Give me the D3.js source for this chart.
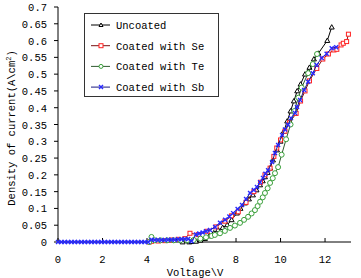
<!DOCTYPE html>
<html>
<head>
<meta charset="utf-8">
<script src="https://cdn.jsdelivr.net/npm/d3@7"></script>
<style>
  body { margin: 0; background: #fff; }
  svg { display: block; }
  text { font-family: "Liberation Mono", "DejaVu Sans Mono", monospace; font-size: 10.5px; fill: #000; }
</style>
</head>
<body>
<div id="chart"></div>
<script>
// series names, in drawing order
var names = ["Uncoated", "Coated with Se", "Coated with Te", "Coated with Sb"];

// [voltage, current density]
var uncoated = [[5.6,0],[5.9,0],[6.0,0.001],[6.2,0.002],[6.4,0.005],[6.6,0.01],[6.8,0.018],[7.0,0.027],
  [7.19,0.036],[7.4,0.043],[7.6,0.051],[7.8,0.066],[8.04,0.086],[8.2,0.1],[8.4,0.116],[8.58,0.128],
  [8.76,0.14],[8.92,0.155],[9.08,0.17],[9.2,0.182],[9.3,0.194],[9.42,0.207],[9.53,0.22],[9.66,0.244],
  [9.84,0.274],[10.0,0.3],[10.15,0.33],[10.3,0.36],[10.45,0.39],[10.6,0.42],[10.75,0.45],[10.9,0.47],
  [11.1,0.5],[11.3,0.52],[11.5,0.545],[11.7,0.562],[12.1,0.6],[12.3,0.64]];

var se = [[4.1,0],[4.2,0.002],[4.5,0.003],[4.8,0.004],[5.1,0.006],[5.4,0.008],[5.7,0.01],[5.93,0.026],
  [6.3,0.022],[6.7,0.032],[7.1,0.045],[7.5,0.062],[7.8,0.078],[8.1,0.09],[8.45,0.118],[8.8,0.15],
  [9.1,0.178],[9.3,0.2],[9.53,0.22],[9.7,0.255],[9.83,0.28],[10.0,0.304],[10.2,0.33],[10.4,0.355],
  [10.7,0.383],[10.9,0.42],[11.1,0.45],[11.3,0.48],[11.63,0.517],[11.9,0.545],[12.15,0.56],[12.4,0.572],
  [12.53,0.574],[12.72,0.587],[12.82,0.592],[12.97,0.597],[13.05,0.619]];

var te = [[4.1,0],[4.2,0.015],[4.35,0.005],[4.6,0.005],[4.9,0.005],[5.2,0.005],[5.5,0.005],[5.8,0.005],
  [6.1,0.006],[6.4,0.01],[6.65,0.014],[6.9,0.018],[7.05,0.021],[7.28,0.026],[7.5,0.033],[7.73,0.042],
  [7.95,0.049],[8.18,0.057],[8.36,0.066],[8.54,0.075],[8.7,0.085],[8.85,0.095],[8.97,0.107],[9.08,0.12],
  [9.2,0.133],[9.3,0.146],[9.42,0.16],[9.53,0.176],[9.65,0.19],[9.75,0.205],[9.89,0.223],[10.05,0.26],
  [10.25,0.306],[10.45,0.35],[10.62,0.39],[10.8,0.43],[10.95,0.46],[11.24,0.503],[11.45,0.53],[11.64,0.56]];

var sb = [[0,0],[0.15,0],[0.3,0],[0.45,0],[0.6,0],[0.75,0],[0.9,0],[1.05,0],[1.2,0],[1.35,0],[1.5,0],
  [1.65,0],[1.8,0],[1.95,0],[2.1,0],[2.25,0],[2.4,0],[2.55,0],[2.7,0],[2.85,0],[3.0,0],[3.15,0],[3.3,0],
  [3.45,0],[3.6,0],[3.75,0],[3.9,0],[4.05,0],[4.2,0.007],[4.35,0.006],[4.5,0.006],[4.65,0.006],
  [4.8,0.006],[4.95,0.007],[5.1,0.007],[5.25,0.007],[5.4,0.008],[5.55,0.008],[5.7,0.009],[5.85,0.009],
  [6.0,0.002],[6.2,0.022],[6.35,0.025],[6.5,0.028],[6.65,0.032],[6.83,0.036],[7.06,0.045],[7.28,0.057],
  [7.51,0.066],[7.7,0.076],[7.87,0.086],[8.07,0.098],[8.27,0.11],[8.45,0.128],[8.63,0.146],[8.8,0.155],
  [8.94,0.164],[9.08,0.178],[9.21,0.191],[9.32,0.203],[9.44,0.214],[9.62,0.238],[9.75,0.265],[9.89,0.289],
  [10.07,0.319],[10.2,0.335],[10.34,0.349],[10.47,0.369],[10.65,0.384],[10.74,0.402],[10.88,0.423],
  [11.06,0.453],[11.24,0.477],[11.45,0.503],[11.62,0.527],[11.85,0.548],[12.07,0.561],[12.3,0.577],[12.5,0.58]];

var xTicks = [0, 2, 4, 6, 8, 10, 12];
var yTicks = [0, 0.05, 0.1, 0.15, 0.2, 0.25, 0.3, 0.35, 0.4, 0.45, 0.5, 0.55, 0.6, 0.65, 0.7];

var lineColors = ["#000000", "#7a1010", "#2f5a2f", "#1a1a80"];
var markColors = ["#000000", "#ff2020", "#3aa03a", "#2a2aff"];
var markTypes = ["triangle", "square", "circle", "x"];
var markSizes = [2.5, 2, 2.5, 2];

var width = 361, height = 278;
var svg = d3.select("#chart").append("svg")
    .attr("width", width)
    .attr("height", height);

var x = d3.scaleLinear().domain([0, 13]).range([58, 347.3]);
var y = d3.scaleLinear().domain([0, 0.7]).range([242, 7]);

// axes
var gx = svg.append("g").attr("transform", "translate(0," + y(0) + ")");
gx.append("line").attr("x1", x(0)).attr("x2", 351).attr("stroke", "#000");
gx.selectAll("line.t").data(xTicks).enter().append("line")
    .attr("x1", d => x(d)).attr("x2", d => x(d)).attr("y1", 0).attr("y2", -4)
    .attr("stroke", "#000");
gx.selectAll("text").data(xTicks).enter().append("text")
    .attr("x", d => x(d)).attr("y", 21)
    .attr("text-anchor", "middle")
    .text(d => d);

var gy = svg.append("g").attr("transform", "translate(" + x(0) + ",0)");
gy.append("line").attr("y1", y(0)).attr("y2", y(0.7)).attr("stroke", "#000");
gy.selectAll("line.t").data(yTicks).enter().append("line")
    .attr("x1", -4).attr("x2", 0).attr("y1", d => y(d)).attr("y2", d => y(d))
    .attr("stroke", "#000");
gy.selectAll("text").data(yTicks).enter().append("text")
    .attr("x", -11).attr("y", d => y(d) + 4)
    .attr("text-anchor", "end")
    .text(d => String(+d.toFixed(2)));

// axis titles
var yt = svg.append("text")
    .attr("transform", "translate(15,128) rotate(-90)")
    .attr("text-anchor", "middle");
yt.append("tspan").text("Density of current(A\\cm");
yt.append("tspan").attr("dy", -4).style("font-size", "7px").text("2");
yt.append("tspan").attr("dy", 4).text(")");

svg.append("text")
    .attr("x", 195).attr("y", 276)
    .attr("text-anchor", "middle")
    .text("Voltage\\V");

// markers
function drawMark(g, type, color, cx, cy, s) {
    if (type == "triangle") {
        g.append("path")
            .attr("d", "M" + cx + "," + (cy - s) + "L" + (cx + s) + "," + (cy + s * 0.75) + "L" + (cx - s) + "," + (cy + s * 0.75) + "Z")
            .attr("fill", "#fff").attr("stroke", color).attr("stroke-width", 1);
    } else if (type == "square") {
        g.append("rect")
            .attr("x", cx - s).attr("y", cy - s).attr("width", 2 * s).attr("height", 2 * s)
            .attr("fill", "#fff").attr("stroke", color).attr("stroke-width", 1);
    } else if (type == "circle") {
        g.append("circle")
            .attr("cx", cx).attr("cy", cy).attr("r", s)
            .attr("fill", "#fff").attr("stroke", color).attr("stroke-width", 1);
    } else {
        g.append("path")
            .attr("d", "M" + (cx - s) + "," + (cy - s) + "L" + (cx + s) + "," + (cy + s) +
                       "M" + (cx + s) + "," + (cy - s) + "L" + (cx - s) + "," + (cy + s))
            .attr("stroke", color).attr("stroke-width", 1.4);
    }
}

var series = [uncoated, se, te, sb];
var line = d3.line().x(d => x(d[0])).y(d => y(d[1]));

series.forEach(function(data, i) {
    var g = svg.append("g");
    g.append("path")
        .attr("d", line(data))
        .attr("fill", "none")
        .attr("stroke", lineColors[i])
        .attr("stroke-width", 1);
    data.forEach(function(d) {
        drawMark(g, markTypes[i], markColors[i], x(d[0]), y(d[1]), markSizes[i]);
    });
});

// legend
var lg = svg.append("g");
lg.append("rect")
    .attr("x", 84.5).attr("y", 13.5).attr("width", 134).attr("height", 83)
    .attr("fill", "#fff").attr("stroke", "#333");
names.forEach(function(n, i) {
    var ly = 25 + i * 20.7;
    lg.append("line").attr("x1", 91).attr("x2", 110).attr("y1", ly).attr("y2", ly)
        .attr("stroke", lineColors[i]);
    drawMark(lg, markTypes[i], markColors[i], 101, ly, 2);
    lg.append("text").attr("x", 116).attr("y", ly + 4).text(n);
});
</script>
</body>
</html>
